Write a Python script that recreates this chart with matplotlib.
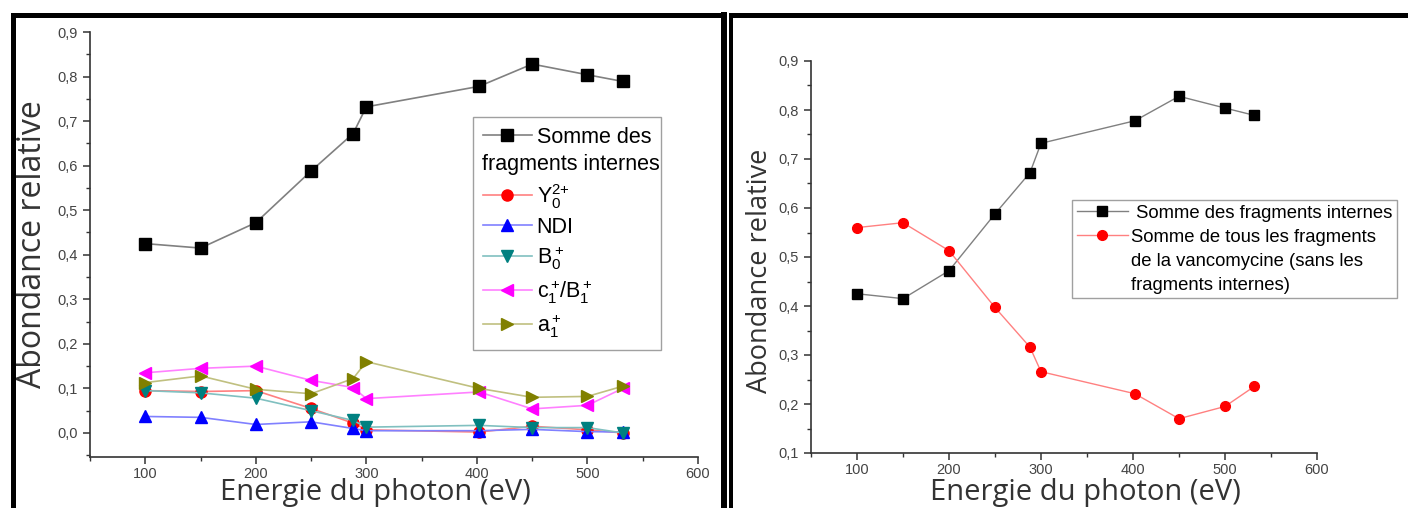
import matplotlib
matplotlib.use("Agg")
import matplotlib.pyplot as plt
from matplotlib.lines import Line2D
from matplotlib.ticker import MultipleLocator, FuncFormatter

plt.rcParams['font.family'] = ['Liberation Sans', 'DejaVu Sans']
plt.rcParams['mathtext.fontset'] = 'custom'
plt.rcParams['mathtext.rm'] = 'Liberation Sans'
plt.rcParams['mathtext.it'] = 'Liberation Sans'

# energies (eV)
energie = [100, 150, 200, 250, 288, 300, 402, 450, 500, 532]

# left panel
somme_internes = [0.425, 0.415, 0.472, 0.588, 0.672, 0.732, 0.778, 0.828, 0.804, 0.789]
y0_2p = [0.095, 0.093, 0.095, 0.055, 0.022, 0.007, 0.002, 0.015, 0.007, 0.000]
ndi = [0.037, 0.035, 0.019, 0.025, 0.010, 0.005, 0.005, 0.008, 0.003, 0.002]
b0_p = [0.095, 0.090, 0.078, 0.050, 0.028, 0.013, 0.017, 0.012, 0.012, 0.000]
c1_b1 = [0.135, 0.145, 0.150, 0.118, 0.102, 0.077, 0.092, 0.054, 0.062, 0.100]
a1_p = [0.113, 0.128, 0.098, 0.088, 0.122, 0.160, 0.100, 0.080, 0.082, 0.105]

# right panel
somme_autres = [0.560, 0.570, 0.513, 0.397, 0.316, 0.266, 0.221, 0.170, 0.195, 0.236]

W, H = 1408, 508
fig = plt.figure(figsize=(W / 100, H / 100), dpi=100)

comma = FuncFormatter(lambda v, p: ("%.1f" % v).replace(".", ","))
lab_font = dict(family=['Open Sans', 'DejaVu Sans'], color='#333333')


def style_axes(ax, ymin, ymax):
    ax.set_xlim(50, 600)
    ax.set_ylim(ymin, ymax)
    for s in ['top', 'right']:
        ax.spines[s].set_visible(False)
    for s in ['left', 'bottom']:
        ax.spines[s].set_color('#333333')
        ax.spines[s].set_linewidth(1.2)
    ax.xaxis.set_major_locator(MultipleLocator(100))
    ax.xaxis.set_minor_locator(MultipleLocator(50))
    ax.yaxis.set_major_locator(MultipleLocator(0.1))
    ax.yaxis.set_minor_locator(MultipleLocator(0.05))
    ax.yaxis.set_major_formatter(comma)
    ax.tick_params(which='major', direction='out', length=5, width=1.1,
                   color='#333333', labelsize=10.5, labelcolor='#444444')
    ax.tick_params(axis='x', which='major', pad=2)
    ax.tick_params(which='minor', direction='out', length=3, width=1.0, color='#333333')


blank = Line2D([], [], alpha=0)

# ---------- left panel ----------
ax1 = fig.add_axes([90 / W, 1 - 457 / H, 608 / W, 425 / H])
style_axes(ax1, -0.054, 0.9)

l0, = ax1.plot(energie, somme_internes, color='#808080', lw=1.2, marker='s', ms=8,
               mfc='black', mec='black')
l1, = ax1.plot(energie, y0_2p, color='#ff8080', lw=1.2, marker='o', ms=8,
               mfc='red', mec='red')
l2, = ax1.plot(energie, ndi, color='#8080ff', lw=1.2, marker='^', ms=8,
               mfc='blue', mec='blue')
l3, = ax1.plot(energie, b0_p, color='#80c0c0', lw=1.2, marker='v', ms=8,
               mfc='#008080', mec='#008080')
l4, = ax1.plot(energie, c1_b1, color='#ff80ff', lw=1.2, marker='<', ms=8,
               mfc='magenta', mec='magenta')
l5, = ax1.plot(energie, a1_p, color='#c0c080', lw=1.2, marker='>', ms=8,
               mfc='#808000', mec='#808000')

leg1 = ax1.legend([l0, blank, l1, l2, l3, l4, l5],
                  ["Somme des", " ", r"Y$_0^{2{+}}$", "NDI", r"B$_0^+$",
                   r"$\mathregular{c_1^+\!/B_1^+}$", r"a$_1^+$"],
                  loc='upper left', bbox_to_anchor=((473 - 90) / 608, (457 - 117) / 425),
                  fontsize=15.5, frameon=True, fancybox=False, handlelength=2.3,
                  borderpad=0.45, labelspacing=0.3, handletextpad=0.2, borderaxespad=0)
leg1.get_frame().set_edgecolor('#888888')
leg1.get_frame().set_linewidth(1.0)

ax1.set_ylabel("Abondance relative", fontsize=23, va='center', **lab_font)
ax1.yaxis.set_label_coords(-0.095, 0.5)
ax1.set_xlabel("Energie du photon (eV)", fontsize=21, va='bottom', **lab_font)
ax1.xaxis.set_label_coords(0.470, (457 - 507) / 425)

# ---------- right panel ----------
ax2 = fig.add_axes([811 / W, 1 - 453 / H, 506 / W, 392 / H])
style_axes(ax2, 0.1, 0.9)

r0, = ax2.plot(energie, somme_internes, color='#808080', lw=1.0, marker='s', ms=7,
               mfc='black', mec='black')
r1, = ax2.plot(energie, somme_autres, color='#ff8080', lw=1.0, marker='o', ms=7,
               mfc='red', mec='red')

leg2 = ax2.legend([r0, r1, blank, blank],
                  [" Somme des fragments internes", "Somme de tous les fragments",
                   "de la vancomycine (sans les", "fragments internes)"],
                  loc='upper left', bbox_to_anchor=((1072 - 811) / 506, (453 - 200) / 392),
                  fontsize=13.3, frameon=True, fancybox=False, handlelength=2.8,
                  borderpad=0.25, labelspacing=0.38, handletextpad=0.15, borderaxespad=0)
leg2.get_frame().set_edgecolor('#888888')
leg2.get_frame().set_linewidth(1.0)

ax2.set_ylabel("Abondance relative", fontsize=19.5, va='center', **lab_font)
ax2.yaxis.set_label_coords(-0.10, 0.464)
ax2.set_xlabel("Energie du photon (eV)", fontsize=21, va='bottom', **lab_font)
ax2.xaxis.set_label_coords(0.543, (453 - 507) / 392)

# second line of the first left legend entry starts at the frame's left edge
fig.canvas.draw()
rend = fig.canvas.get_renderer()
fb = leg1.get_frame().get_window_extent(rend)
tb = leg1.get_texts()[1].get_window_extent(rend)
fig.text((fb.x0 + 9) / W, tb.y0 / H, "fragments internes", fontsize=15.5,
         va='bottom', ha='left')

# ---------- panel borders ----------
def border(xs, ys, lw_px):
    fig.add_artist(Line2D([x / W for x in xs], [1 - y / H for y in ys],
                          color='black', lw=lw_px * 0.72, solid_capstyle='projecting',
                          transform=fig.transFigure, clip_on=False))

border([12.5, 12.5], [14.5, 520], 5)
border([12.5, 724], [14.5, 14.5], 5)
border([724, 724], [14.5, 520], 6)
border([731, 1420], [14.5, 14.5], 5)
border([731, 731], [14.5, 520], 4)

fig.savefig("out.png", dpi=100)
